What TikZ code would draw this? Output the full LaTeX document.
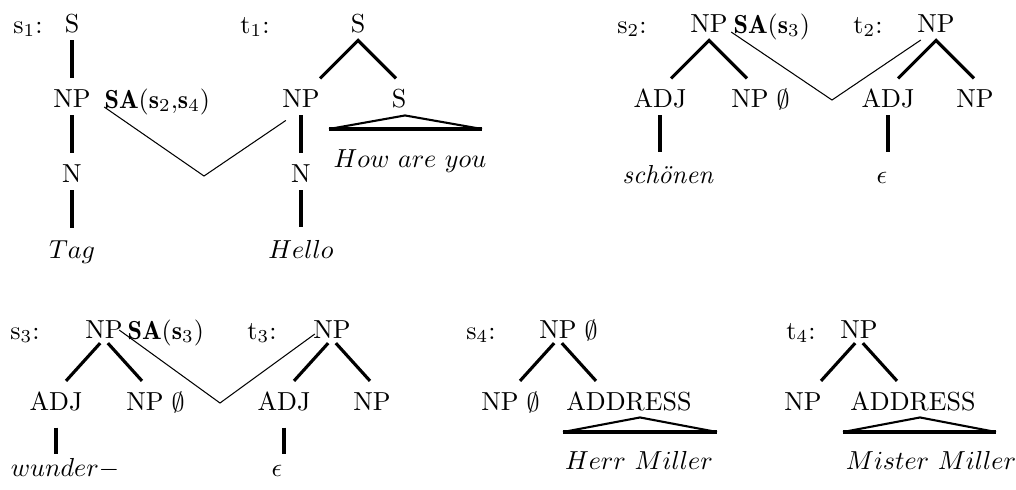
\documentclass[tikz,border=0pt]{standalone}
\usepackage{fontspec}
\usepackage{amsmath}
\usepackage{amssymb}

\tikzset{
  cat/.style={inner sep=2.7pt, text height=6.83pt, text depth=0pt},
  word/.style={inner sep=2.7pt, anchor=base},
  lbl/.style={inner sep=0pt, anchor=base},
  edge/.style={line width=1.3pt, shorten >=1.9pt},
  branch/.style={line width=1.2pt},
  lowbranch/.style={branch, shorten <=2.2pt},
  link/.style={line width=0.4pt},
  tri/.style={line width=0.8pt, line join=round},
  tribase/.style={line width=1.6pt}
}

\begin{document}
\begin{tikzpicture}[x=0.384pt,y=-0.384pt]
\useasboundingbox (0,0) rectangle (1016,489);

% s1 / t1
\node [lbl] (s1lbl) at (28,33) {s$_1$:};
\node [cat] (s1S) at (72,24) {S};
\node [cat] (s1NP) at (72,99) {NP};
\node [lbl, anchor=base west] (s1SA) at (104,108) {$\mathbf{SA}(\mathbf{s}_2{,}\mathbf{s}_4)$};
\node [cat] (s1N) at (72,174) {N};
\node [word] (s1w) at (72,258) {$Tag$};
\draw [edge] (s1S) -- (s1NP);
\draw [edge] (s1NP) -- (s1N);
\draw [edge] (s1N) -- (s1w);

\node [lbl] (t1lbl) at (255,33) {t$_1$:};
\node [cat] (t1S) at (358,24) {S};
\node [cat] (t1NP) at (301,99) {NP};
\node [cat] (t1S2) at (399,99) {S};
\node [cat] (t1N) at (301,174) {N};
\node [word] (t1w) at (301,258) {$Hello$};
\node [word] (t1y) at (410,167) {$How\ are\ you$};
\coordinate (t1l) at ([shift={(-38,38)}]t1S.south);
\coordinate (t1r) at ([shift={(38,38)}]t1S.south);
\draw [branch] (t1l) -- (t1S.south) -- (t1r);
\draw [edge] (t1NP) -- (t1N);
\draw [edge] (t1N) -- (t1w);
\coordinate (t1bl) at (329,129);
\coordinate (t1br) at (482,129);
\draw [tri] (t1bl) -- ([shift={(6,0)}]t1S2.south) -- (t1br);
\draw [tribase] (t1bl) -- (t1br);

\coordinate (v1) at (204,176);
\draw [link] ([shift={(6,8)}]s1NP.east) -- (v1) -- ([shift={(11,5)}]t1NP.south west);

% s2 / t2
\node [lbl] (s2lbl) at (632,33) {s$_2$:};
\node [cat] (s2NP) at (709,24) {NP};
\node [lbl, anchor=base west] (s2SA) at (733,33) {$\mathbf{SA}(\mathbf{s}_3)$};
\node [cat] (s2ADJ) at (660,99) {ADJ};
\node [cat, label={[inner sep=0pt]right:$\emptyset$}] (s2NP2) at (750,99) {NP};
\node [word] (s2w) at (668,183) {\textit{schönen}};
\coordinate (s2l) at ([shift={(-38,38)}]s2NP.south);
\coordinate (s2r) at ([shift={(38,38)}]s2NP.south);
\draw [branch] (s2l) -- (s2NP.south) -- (s2r);
\draw [edge] (s2ADJ.south) -- (s2ADJ.south |- s2w.north);

\node [lbl] (t2lbl) at (868,33) {t$_2$:};
\node [cat] (t2NP) at (936,24) {NP};
\node [cat] (t2ADJ) at (888,99) {ADJ};
\node [cat] (t2NP2) at (975,99) {NP};
\node [word] (t2eps) at (882,183) {$\epsilon$};
\coordinate (t2l) at ([shift={(-38,38)}]t2NP.south);
\coordinate (t2r) at ([shift={(38,38)}]t2NP.south);
\draw [branch] (t2l) -- (t2NP.south) -- (t2r);
\draw [edge] (t2ADJ.south) -- (t2ADJ.south |- s2w.north);

\coordinate (v2) at (832,100);
\draw [link] ([shift={(-4,8)}]s2NP.east) -- (v2) -- ([shift={(11,16)}]t2NP.west);

% s3 / t3
\node [lbl] (s3lbl) at (25,339) {s$_3$:};
\node [cat] (s3NP) at (104,330) {NP};
\node [lbl, anchor=base west] (s3SA) at (127,339) {$\mathbf{SA}(\mathbf{s}_3)$};
\node [cat] (s3ADJ) at (56,402) {ADJ};
\node [cat, label={[inner sep=0pt]right:$\emptyset$}] (s3NP2) at (145,402) {NP};
\node [word] (s3w) at (65,476) {$wunder-$};
\coordinate (s3l) at ([shift={(-38,42)}]s3NP.base);
\coordinate (s3r) at ([shift={(38,42)}]s3NP.base);
\draw [lowbranch] (s3NP.base) -- (s3l);
\draw [lowbranch] (s3NP.base) -- (s3r);
\draw [edge, shorten <=3.5pt, shorten >=-1.5pt] (s3ADJ.south) -- (s3ADJ.south |- s3w.north);

\node [lbl] (t3lbl) at (262,339) {t$_3$:};
\node [cat] (t3NP) at (332,330) {NP};
\node [cat] (t3ADJ) at (284,402) {ADJ};
\node [cat] (t3NP2) at (372,402) {NP};
\node [word] (t3eps) at (277,476) {$\epsilon$};
\coordinate (t3l) at ([shift={(-38,42)}]t3NP.base);
\coordinate (t3r) at ([shift={(38,42)}]t3NP.base);
\draw [lowbranch] (t3NP.base) -- (t3l);
\draw [lowbranch] (t3NP.base) -- (t3r);
\draw [edge, shorten <=3.5pt, shorten >=-1.5pt] (t3ADJ.south) -- (t3ADJ.south |- s3w.north);

\coordinate (v3) at (220,403);
\draw [link] ([shift={(-11,0)}]s3NP.east) -- (v3) -- ([shift={(9,4)}]t3NP.west);

% s4 / t4
\node [lbl] (s4lbl) at (481,339) {s$_4$:};
\node [cat, label={[inner sep=0pt]right:$\emptyset$}] (s4NP) at (558,330) {NP};
\node [cat, label={[inner sep=0pt]right:$\emptyset$}] (s4NP2) at (500,402) {NP};
\node [cat] (s4ADR) at (629,402) {ADDRESS};
\node [word] (s4w) at (639,469) {$Herr\ Miller$};
\coordinate (s4l) at ([shift={(-38,42)}]s4NP.base);
\coordinate (s4r) at ([shift={(38,42)}]s4NP.base);
\draw [lowbranch] (s4NP.base) -- (s4l);
\draw [lowbranch] (s4NP.base) -- (s4r);
\coordinate (s4bl) at (563,432);
\coordinate (s4br) at (717,432);
\draw [tri] (s4bl) -- ([shift={(11,-1)}]s4ADR.south) -- (s4br);
\draw [tribase] (s4bl) -- (s4br);

\node [lbl] (t4lbl) at (801,339) {t$_4$:};
\node [cat] (t4NP) at (859,330) {NP};
\node [cat] (t4NP2) at (803,402) {NP};
\node [cat] (t4ADR) at (913,402) {ADDRESS};
\node [word] (t4w) at (931,469) {$Mister\ Miller$};
\coordinate (t4l) at ([shift={(-38,42)}]t4NP.base);
\coordinate (t4r) at ([shift={(38,42)}]t4NP.base);
\draw [lowbranch] (t4NP.base) -- (t4l);
\draw [lowbranch] (t4NP.base) -- (t4r);
\coordinate (t4bl) at (843,432);
\coordinate (t4br) at (996,432);
\draw [tri] (t4bl) -- ([shift={(7,-1)}]t4ADR.south) -- (t4br);
\draw [tribase] (t4bl) -- (t4br);
\end{tikzpicture}
\end{document}
